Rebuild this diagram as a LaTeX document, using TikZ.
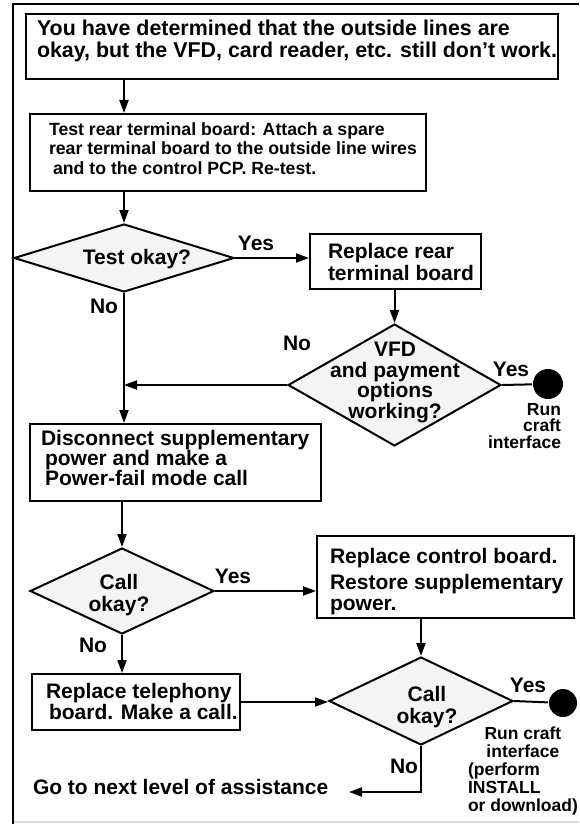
\documentclass[tikz,border=0pt]{standalone}
\usepackage{fontspec}
\setmainfont{Liberation Sans}
\usetikzlibrary{shapes.geometric,arrows.meta}
\definecolor{diafill}{gray}{0.955}
\definecolor{edgegray}{gray}{0.85}
% struts that fix the first baseline of a text block below its top edge
\newcommand{\capstrut}{\rule{0pt}{16pt}}
\newcommand{\midstrut}{\rule{0pt}{13.5pt}}
\newcommand{\smallstrut}{\rule{0pt}{13.3pt}}
\begin{document}
\begin{tikzpicture}[x=1pt,y=-1pt,line width=2pt,
  boxnode/.style={draw, rectangle, fill=white, inner sep=0pt, anchor=north west},
  dianode/.style={draw, diamond, fill=diafill, inner sep=0pt},
  endnode/.style={circle, fill=black, draw=none, inner sep=0pt, minimum size=#1},
  bigtext/.style={inner sep=0pt, font=\fontsize{21}{22}\selectfont\bfseries},
  midtext/.style={inner sep=0pt, font=\fontsize{17.7}{19.5}\selectfont\bfseries},
  smalltext/.style={inner sep=0pt, font=\fontsize{17.5}{16.5}\selectfont\bfseries},
  answer/.style={inner sep=0pt, anchor=base, font=\fontsize{21}{22}\selectfont\bfseries},
  arr/.style={-{Triangle[length=13pt,width=9pt]}},
  plain/.style={-},
]
\useasboundingbox (0,0) rectangle (579,824);

% page frame
\draw[edgegray, line width=1.5pt] (13,822) -- (579,822);
\draw[line width=2.4pt] (13,824) -- (13,4) -- (579,4);

% start box
\node[boxnode, minimum width=532pt, minimum height=65pt] (b1) at (25,13) {};
\node[bigtext, align=left, anchor=north west, font=\fontsize{21.4}{22}\selectfont\bfseries] (b1t) at (36,19)
  {\capstrut You have determined that the outside lines are\\okay, but the VFD, card reader, etc. still don’t work.};

% rear terminal board test
\node[boxnode, minimum width=396pt, minimum height=77pt] (b2) at (29,113) {};
\node[midtext, align=left, anchor=north west] (b2t) at (48,120.5)
  {\midstrut Test rear terminal board: Attach a spare\\rear terminal board to the outside line wires\\\hspace{4pt}and to the control PCP. Re-test.};

% first decision
\node[dianode, minimum width=220pt, minimum height=68pt] (d1) at (124,258) {};
\node[answer] (d1t) at (137,264) {Test okay?};

\node[boxnode, minimum width=171pt, minimum height=55pt] (b3) at (309,233) {};
\node[bigtext, align=left, anchor=north west] (b3t) at (327,241)
  {\capstrut Replace rear\\terminal board};

% second decision
\node[dianode, minimum width=213pt, minimum height=122pt] (d2) at (394.5,385) {};
\node[bigtext, align=center, anchor=north, font=\fontsize{21}{20.5}\selectfont\bfseries] (d2t) at (395,339.5)
  {\capstrut VFD\\and payment\\options\\working?};

\node[endnode=30pt] (c1) at (548,384) {};
\node[smalltext, align=right, anchor=north east] (c1t) at (562,400.7)
  {\smallstrut Run\\craft\\interface};

% power-fail test
\node[boxnode, minimum width=291pt, minimum height=77pt] (b4) at (29,423) {};
\node[bigtext, align=left, anchor=north west, font=\fontsize{21}{20}\selectfont\bfseries] (b4t) at (40,428)
  {\capstrut Disconnect supplementary\\\hspace{4pt}power and make a\\\hspace{4pt}Power-fail mode call};

% third decision
\node[dianode, minimum width=184pt, minimum height=86pt] (d3) at (122,591) {};
\node[bigtext, align=center, anchor=north] (d3t) at (119,572)
  {\capstrut Call\\okay?};

\node[boxnode, minimum width=257pt, minimum height=82pt] (b6) at (316,535) {};
\node[bigtext, align=left, anchor=north west, font=\fontsize{21}{21.5}\selectfont\bfseries] (b6t) at (329,546)
  {\capstrut Replace control board.\\[4.5pt]Restore supplementary\\power.};

\node[boxnode, minimum width=208pt, minimum height=56pt] (b5) at (31,673) {};
\node[bigtext, align=left, anchor=north west, font=\fontsize{21}{21}\selectfont\bfseries] (b5t) at (45,681)
  {\capstrut Replace telephony\\\hspace{3pt}board. Make a call.};

% fourth decision
\node[dianode, minimum width=184pt, minimum height=88pt] (d4) at (421,701) {};
\node[bigtext, align=center, anchor=north] (d4t) at (427,684)
  {\capstrut Call\\okay?};

\node[endnode=28pt] (c2) at (563,703) {};
\node[smalltext, anchor=north west, font=\fontsize{17.5}{18.2}\selectfont\bfseries] (c2t) at (467,725.3)
  {\begin{tabular}{@{}l@{}}\hfil Run craft\\\hfil interface\\(perform\\INSTALL\\or download)\end{tabular}};

\node[bigtext, anchor=base west] (gonext) at (32,794) {Go to next level of assistance};
\coordinate (gtip) at (349,792);

% answer labels
\node[answer] (y1) at (256,250) {Yes};
\node[answer] (n1) at (104,313) {No};
\node[answer] (n2) at (297,350) {No};
\node[answer] (y2) at (511,376) {Yes};
\node[answer] (y3) at (233,583) {Yes};
\node[answer] (n3) at (93,652) {No};
\node[answer] (y4) at (528,692) {Yes};
\node[answer] (n4) at (404,773) {No};

% connectors
\draw[arr] (b1.south -| d1.north) -- (b2.north -| d1.north);
\draw[arr] (b2.south -| d1.north) -- (d1.north);
\draw[arr] (d1.east) -- (d1.east -| b3.west);
\draw[arr] (b3.south -| d2.north) -- (d2.north);
\draw[plain] (d2.east) -- (c1);
\draw[arr] (d2.west) -- (d2.west -| d1.south);
\draw[arr] (d1.south) -- (d1.south |- b4.north);
\draw[arr] (b4.south -| d3.north) -- (d3.north);
\draw[arr] (d3.east) -- (d3.east -| b6.west);
\draw[arr] (d3.south) -- (d3.south |- b5.north);
\draw[arr] (b6.south -| d4.north) -- (d4.north);
\draw[arr] (b5.east) -- (b5.east -| d4.west);
\draw[plain] (d4.east) -- (c2);
\draw[arr] (d4.south) |- (gtip);
\end{tikzpicture}
\end{document}
